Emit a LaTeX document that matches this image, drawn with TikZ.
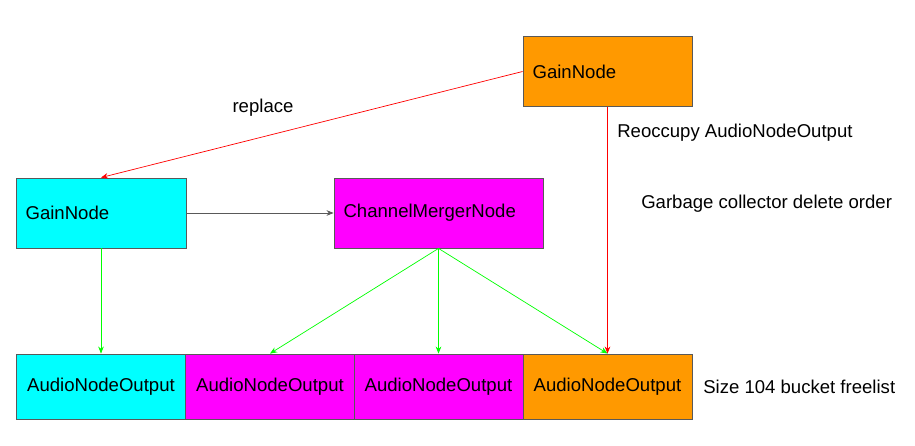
\documentclass[tikz,border=0pt]{standalone}
\usepackage{fontspec}
\setmainfont{Liberation Sans}
\usetikzlibrary{arrows.meta}
\definecolor{boxcyan}{HTML}{00FFFF}
\definecolor{boxmagenta}{HTML}{FF00FF}
\definecolor{boxorange}{HTML}{FF9900}
\definecolor{edgegray}{HTML}{595959}
\definecolor{linkgreen}{HTML}{00FF00}
\definecolor{linkred}{HTML}{FF0000}
\begin{document}
\begin{tikzpicture}[
  x=0.025cm, y=-0.025cm,
  every node/.style={font=\fontsize{13.2}{15}\selectfont},
  block/.style={draw=edgegray, line width=0.6pt, minimum height=1.75cm, inner xsep=0.24cm, align=left},
  output/.style={draw=edgegray, line width=0.6pt, minimum width=4.22cm, minimum height=1.625cm, inner sep=0pt},
  label/.style={inner sep=0pt, anchor=west},
  redlink/.style={draw=linkred, line width=0.5pt, -{Stealth[length=5pt,width=4pt]}},
  greenlink/.style={draw=linkgreen, line width=0.5pt, -{Stealth[length=5pt,width=4pt]}},
  graylink/.style={draw=edgegray, line width=0.5pt, -{Stealth[length=5pt,width=4pt]}}
  ]
	\useasboundingbox (0,0) rectangle (915,446);

	\node[block, fill=boxorange, text width=3.745cm] (gain_new) at (607.5,71.5) {GainNode};
	\node[block, fill=boxcyan, text width=3.77cm] (gain_old) at (101,213) {GainNode};
	\node[block, fill=boxmagenta, text width=4.745cm] (merger) at (438.5,213) {ChannelMergerNode};

	\node[output, fill=boxcyan] (out1) at (101,386.5) {AudioNodeOutput};
	\node[output, fill=boxmagenta] (out2) at (270,386.5) {AudioNodeOutput};
	\node[output, fill=boxmagenta] (out3) at (438.5,386.5) {AudioNodeOutput};
	\node[output, fill=boxorange] (out4) at (607.5,386.5) {AudioNodeOutput};

	\node[inner sep=0pt] (replace) at (263,108) {replace};
	\node[label] (reoccupy) at (617,133) {Reoccupy AudioNodeOutput};
	\node[label] (gc) at (641,204) {Garbage collector delete order};
	\node[label] (freelist) at (703,387) {Size 104 bucket freelist};

	\draw[redlink] (gain_new.west) -- (gain_old.north);
	\draw[graylink] (gain_old.east) -- (merger.west);

	\draw[greenlink] (gain_old.south) -- (out1.north);
	\draw[greenlink] (merger.south) -- (out2.north);
	\draw[greenlink] (merger.south) -- (out3.north);
	\draw[greenlink] (merger.south) -- (out4.north);

	\draw[redlink] (gain_new.south) -- (out4.north);
\end{tikzpicture}
\end{document}
